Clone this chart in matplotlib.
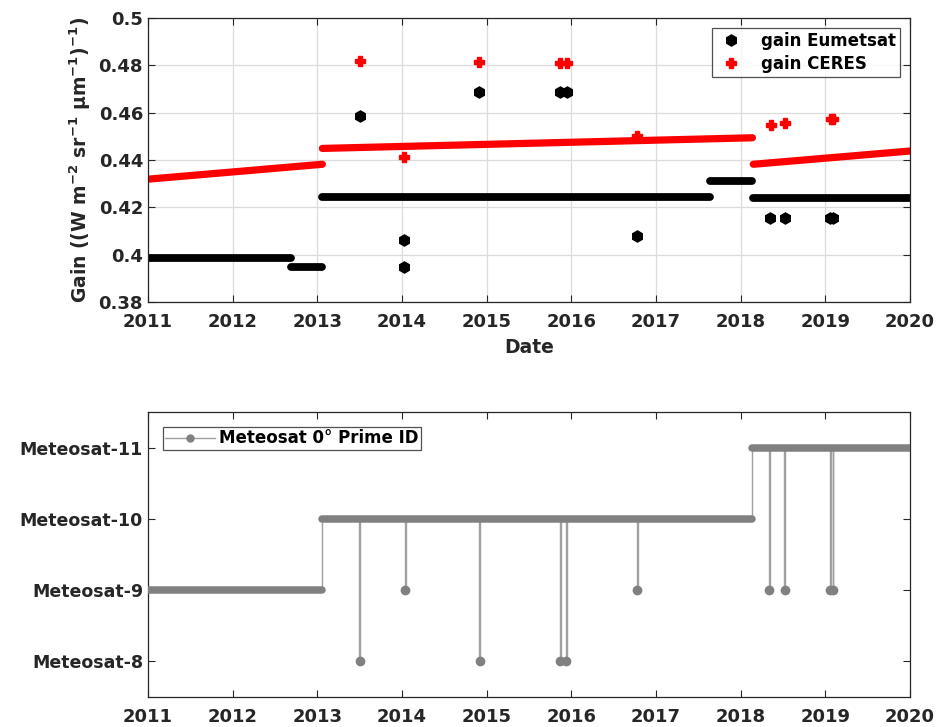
import matplotlib
matplotlib.use("Agg")
import matplotlib.pyplot as plt
from matplotlib.lines import Line2D

plt.rcParams["font.family"] = ["DejaVu Sans"]
plt.rcParams["font.weight"] = "bold"
plt.rcParams["mathtext.fontset"] = "dejavusans"
plt.rcParams["mathtext.default"] = "bf"

years = list(range(2011, 2021))

# Eumetsat gain: constant periods (decimal year start/end, gain)
eum_start = [2011.00, 2012.69, 2013.06, 2017.64, 2018.15]
eum_end = [2012.69, 2013.06, 2017.64, 2018.14, 2020.00]
eum_gain = [0.3986, 0.3949, 0.4245, 0.4312, 0.4240]
# Eumetsat single-day departures
eum_out_date = [2013.50, 2014.02, 2014.02, 2014.91, 2015.87, 2015.95,
                2016.78, 2018.35, 2018.53, 2019.06, 2019.09]
eum_out_gain = [0.4584, 0.4062, 0.3948, 0.4686, 0.4686, 0.4686,
                0.4081, 0.4155, 0.4155, 0.4155, 0.4155]

# CERES gain: drifting periods (start/end date, gain at start/end)
ceres_start = [2011.00, 2013.06, 2018.15]
ceres_end = [2013.06, 2018.14, 2020.00]
ceres_g0 = [0.4319, 0.4449, 0.4382]
ceres_g1 = [0.4382, 0.4494, 0.4438]
ceres_out_date = [2013.50, 2014.02, 2014.91, 2015.87, 2015.95, 2016.78,
                  2018.36, 2018.53, 2019.07, 2019.09]
ceres_out_gain = [0.4817, 0.4413, 0.4813, 0.4810, 0.4810, 0.4502,
                  0.4546, 0.4555, 0.4572, 0.4572]

# Meteosat 0 deg prime satellite number
sat_start = [2011.00, 2013.05, 2018.13]
sat_end = [2013.05, 2018.13, 2020.00]
sat_id = [9, 10, 11]
spike_date = [2013.50, 2014.04, 2014.92, 2015.87, 2015.94, 2016.78,
              2018.34, 2018.52, 2019.06, 2019.09]
spike_id = [8, 9, 8, 8, 8, 9, 9, 9, 9, 9]
spike_base = [10, 10, 10, 10, 10, 10, 11, 11, 11, 11]
sat_labels = ["Meteosat-8", "Meteosat-9", "Meteosat-10", "Meteosat-11"]

dark = "#262626"
fig = plt.figure(figsize=(9.4, 7.27), dpi=100)
ax1 = fig.add_axes([0.1574, 0.5846, 0.8106, 0.3906])
ax2 = fig.add_axes([0.1574, 0.0413, 0.8106, 0.392])

# --- top panel: gains
for s, e, g in zip(eum_start, eum_end, eum_gain):
    ax1.plot([s, e], [g, g], color="black", lw=5.6, solid_capstyle="round")
for s, e, a, b in zip(ceres_start, ceres_end, ceres_g0, ceres_g1):
    ax1.plot([s, e], [a, b], color="red", lw=5.2, solid_capstyle="round")
h_eum, = ax1.plot(eum_out_date, eum_out_gain, ls="none", marker="h",
                  ms=8, color="black", label="gain Eumetsat")
h_cer, = ax1.plot(ceres_out_date, ceres_out_gain, ls="none", marker="P",
                  ms=7.5, color="red", label="gain CERES")

ax1.set_xlim(2011, 2020)
ax1.set_ylim(0.38, 0.5)
ax1.set_xticks(years)
ax1.set_xticklabels([str(y) for y in years])
yt = [0.38, 0.40, 0.42, 0.44, 0.46, 0.48, 0.50]
ax1.set_yticks(yt)
ax1.set_yticklabels(["%g" % v for v in yt])
ax1.grid(True, color="#dcdcdc", lw=0.9)
ax1.set_axisbelow(True)
ax1.set_xlabel("Date", fontsize=13.5, fontweight="bold", color=dark, labelpad=5)
ax1.set_ylabel(r"Gain ((W m$^{-2}$ sr$^{-1}$ $\mu$m$^{-1}$)$^{-1}$)",
               fontsize=13.5, fontweight="bold", color=dark, labelpad=4)
leg1 = ax1.legend(handles=[h_eum, h_cer], loc="upper right", fontsize=12,
                  frameon=True, fancybox=False, edgecolor=dark,
                  borderaxespad=0.6, handletextpad=0.9, borderpad=0.25,
                  labelspacing=0.3, handlelength=1.8)
leg1.get_frame().set_linewidth(0.9)

# --- bottom panel: satellite ID
for d, lo, hi in zip(spike_date, spike_id, spike_base):
    ax2.plot([d - 0.004, d - 0.004, d + 0.004, d + 0.004], [hi, lo, lo, hi],
             color="#a0a0a0", lw=1.0, zorder=2)
for a, b in zip(sat_start[1:], sat_id[1:]):
    ax2.plot([a, a], [b - 1, b], color="#a0a0a0", lw=1.0, zorder=2)
for s, e, i in zip(sat_start, sat_end, sat_id):
    ax2.plot([s, e], [i, i], color="#808080", lw=5.4, solid_capstyle="round", zorder=3)
ax2.plot(spike_date, spike_id, ls="none", marker="o", ms=6, color="#808080", zorder=3)

ax2.set_xlim(2011, 2020)
ax2.set_ylim(7.5, 11.5)
ax2.set_xticks(years)
ax2.set_xticklabels([str(y) for y in years])
ax2.set_yticks([8, 9, 10, 11])
ax2.set_yticklabels(sat_labels)
h_sat = Line2D([], [], color="#a0a0a0", lw=1.0, marker="o", ms=5,
               markerfacecolor="#808080", markeredgecolor="#808080")
leg2 = ax2.legend(handles=[h_sat], labels=["Meteosat 0\u00b0 Prime ID"],
                  loc="upper left", fontsize=12, frameon=True, fancybox=False,
                  edgecolor=dark, borderaxespad=0.9, borderpad=0.15,
                  handlelength=3.0, handletextpad=0.2)
leg2.get_frame().set_linewidth(0.9)

for ax in (ax1, ax2):
    for sp in ax.spines.values():
        sp.set_color(dark)
        sp.set_linewidth(0.9)
    ax.tick_params(direction="in", length=5, width=0.8, top=True, right=True,
                   colors=dark, labelsize=13)
    ax.tick_params(axis="x", pad=8)
    for lab in ax.get_xticklabels() + ax.get_yticklabels():
        lab.set_fontweight("bold")
ax2.tick_params(axis="y", labelsize=12.5)

fig.savefig("out.png", dpi=100)
